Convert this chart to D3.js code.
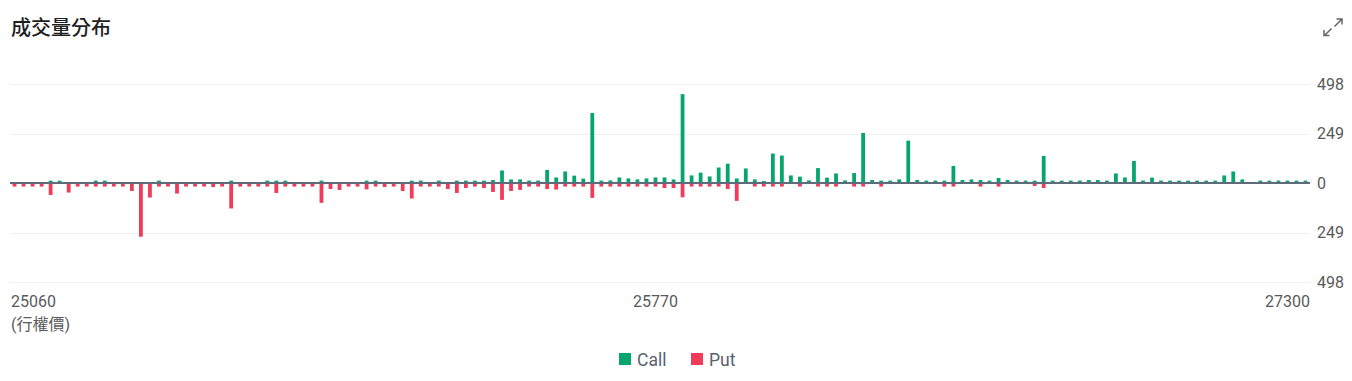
<!DOCTYPE html>
<html>
<head>
<meta charset="utf-8">
<script src="https://cdn.jsdelivr.net/npm/d3@7"></script>
<style>
  body { margin: 0; background: #fff; }
  svg { display: block; font-family: Roboto, "Noto Sans CJK TC", sans-serif; }
</style>
</head>
<body>
<div id="chart"></div>
<script>
// STRIKE PRICES (CATEGORIES)
const strikes = [
  25060, 25070, 25080, 25090, 25100, 25110, 25120, 25130, 25140, 25150,
  25160, 25170, 25180, 25190, 25200, 25210, 25220, 25230, 25240, 25250,
  25260, 25270, 25280, 25290, 25300, 25310, 25320, 25330, 25340, 25350,
  25360, 25370, 25380, 25390, 25400, 25410, 25420, 25430, 25440, 25450,
  25460, 25470, 25480, 25490, 25500, 25510, 25520, 25530, 25540, 25550,
  25560, 25570, 25580, 25590, 25600, 25610, 25620, 25630, 25640, 25650,
  25660, 25670, 25680, 25690, 25700, 25710, 25720, 25730, 25740, 25750,
  25760, 25770, 25790, 25810, 25830, 25850, 25870, 25890, 25910, 25930,
  25950, 25970, 25990, 26010, 26030, 26050, 26070, 26090, 26110, 26130,
  26150, 26170, 26190, 26210, 26230, 26250, 26270, 26290, 26310, 26330,
  26350, 26370, 26390, 26410, 26430, 26450, 26470, 26490, 26510, 26530,
  26550, 26570, 26590, 26610, 26630, 26650, 26670, 26690, 26710, 26730,
  26750, 26770, 26790, 26810, 26830, 26850, 26870, 26890, 26910, 26930,
  26950, 26970, 26990, 27010, 27030, 27050, 27070, 27090, 27110, 27130,
  27150, 27200, 27250, 27300
];

// CALL VOLUME PER STRIKE
const callVolume = [
  0, 0, 0, 0, 12, 12, 0, 0, 0, 12,
  12, 0, 0, 0, 0, 0, 12, 0, 0, 0,
  0, 0, 0, 0, 12, 0, 0, 0, 12, 12,
  12, 0, 0, 0, 12, 0, 0, 0, 0, 12,
  12, 0, 0, 0, 12, 12, 0, 12, 0, 12,
  12, 12, 12, 15, 63, 18, 18, 12, 12, 66,
  28, 58, 37, 22, 352, 12, 13, 28, 23, 18,
  23, 28, 28, 18, 447, 38, 52, 33, 78, 97,
  23, 73, 18, 10, 148, 138, 38, 32, 13, 75,
  27, 48, 13, 50, 252, 15, 12, 12, 18, 213,
  15, 12, 12, 12, 86, 15, 18, 15, 12, 25,
  15, 12, 12, 12, 136, 12, 12, 12, 12, 15,
  15, 12, 48, 28, 111, 12, 27, 12, 12, 12,
  12, 12, 12, 12, 38, 58, 18, 0, 12, 12,
  12, 12, 12, 12
];

// PUT VOLUME PER STRIKE (DRAWN DOWNWARD)
const putVolume = [
  18, 18, 18, 18, 60, 0, 48, 18, 18, 18,
  18, 18, 18, 40, 270, 73, 18, 18, 53, 18,
  18, 18, 20, 18, 128, 18, 18, 18, 18, 50,
  18, 18, 18, 18, 100, 30, 35, 18, 18, 32,
  18, 20, 18, 40, 78, 18, 18, 18, 30, 50,
  25, 18, 25, 45, 85, 40, 35, 18, 18, 30,
  33, 18, 18, 18, 75, 18, 18, 18, 18, 18,
  18, 18, 25, 25, 72, 18, 18, 18, 18, 30,
  90, 0, 18, 18, 18, 18, 0, 18, 0, 18,
  18, 18, 0, 18, 18, 0, 18, 0, 0, 0,
  0, 0, 0, 18, 18, 0, 0, 18, 0, 18,
  0, 0, 0, 15, 25, 0, 0, 0, 0, 0,
  0, 0, 0, 0, 0, 0, 0, 0, 0, 0,
  0, 0, 0, 0, 0, 0, 0, 0, 0, 0,
  0, 0, 0, 0
];

const yTicks = [-498, -249, 0, 249, 498];
const xTicks = [25060, 25770, 27300];
const legendItems = ["Call", "Put"];

const CALL_COLOR = "#05a56d";
const PUT_COLOR = "#f23a5a";
const TEXT_COLOR = "#5a5a5a";

const width = 1352;
const height = 381;
const plotLeft = 10;
const plotRight = 1310;
const plotTop = 84;
const plotBottom = 282;

const data = strikes.map((s, i) => ({
  strike: s,
  call: callVolume[i],
  put: putVolume[i],
}));

const svg = d3
  .select("#chart")
  .append("svg")
  .attr("width", width)
  .attr("height", height)
  .style("background", "#fff");

//SCALES
const x = d3
  .scaleBand()
  .domain(strikes)
  .range([plotLeft, plotRight])
  .paddingInner(0.58)
  .paddingOuter(0.29);

const y = d3.scaleLinear().domain([-498, 498]).range([plotBottom, plotTop]);

//TITLE
svg
  .append("text")
  .attr("x", 11)
  .attr("y", 35)
  .style("font-family", '"Noto Sans CJK TC", sans-serif')
  .style("font-size", "20px")
  .style("font-weight", "500")
  .style("fill", "#1f1f1f")
  .text("成交量分布");

// EXPAND ICON
const icon = svg
  .append("g")
  .attr("fill", "none")
  .attr("stroke", "#666")
  .attr("stroke-width", 1.5);
icon.append("path").attr("d", "M1334.5,26.5 L1341.5,19.5 M1336.5,19 L1342,19 L1342,24.5");
icon.append("path").attr("d", "M1331.5,28.5 L1324.5,35.5 M1324,30 L1324,35.5 L1329.5,35.5");

//GRIDLINES
svg
  .append("g")
  .selectAll("line")
  .data(yTicks.filter((d) => d !== 0))
  .join("line")
  .attr("x1", plotLeft)
  .attr("x2", plotRight)
  .attr("y1", (d) => Math.round(y(d)) + 0.5)
  .attr("y2", (d) => Math.round(y(d)) + 0.5)
  .attr("stroke", "#f0f0f0")
  .attr("stroke-width", 1);

//BARS
svg
  .append("g")
  .selectAll("rect.call")
  .data(data.filter((d) => d.call > 0))
  .join("rect")
  .attr("class", "call")
  .attr("x", (d) => x(d.strike))
  .attr("width", x.bandwidth())
  .attr("y", (d) => y(d.call))
  .attr("height", (d) => y(0) - y(d.call))
  .attr("fill", CALL_COLOR);

svg
  .append("g")
  .selectAll("rect.put")
  .data(data.filter((d) => d.put > 0))
  .join("rect")
  .attr("class", "put")
  .attr("x", (d) => x(d.strike))
  .attr("width", x.bandwidth())
  .attr("y", y(0))
  .attr("height", (d) => y(-d.put) - y(0))
  .attr("fill", PUT_COLOR);

// ZERO LINE
svg
  .append("line")
  .attr("x1", plotLeft)
  .attr("x2", plotRight)
  .attr("y1", y(0))
  .attr("y2", y(0))
  .attr("stroke", "#5f6a7b")
  .attr("stroke-width", 2);

//Y AXIS (RIGHT)
const yAxis = svg
  .append("g")
  .attr("transform", `translate(${plotRight},0)`)
  .call(
    d3
      .axisRight(y)
      .tickValues(yTicks)
      .tickSize(0)
      .tickPadding(7)
      .tickFormat((d) => Math.abs(d))
  );
yAxis.select(".domain").remove();
yAxis
  .selectAll("text")
  .style("font-family", "Roboto, sans-serif")
  .style("font-size", "16px")
  .style("fill", TEXT_COLOR);

//X AXIS
const xAxis = svg
  .append("g")
  .attr("transform", `translate(0,${plotBottom})`)
  .call(d3.axisBottom(x).tickValues(xTicks).tickSize(0).tickPadding(14));
xAxis.select(".domain").remove();
xAxis
  .selectAll("text")
  .style("font-family", "Roboto, sans-serif")
  .style("font-size", "16px")
  .style("fill", TEXT_COLOR)
  .attr("text-anchor", (d, i) => (i === 0 ? "start" : i === xTicks.length - 1 ? "end" : "middle"))
  .attr("x", (d, i) => {
    const c = x(d) + x.bandwidth() / 2;
    if (i === 0) return plotLeft + 1 - c;
    if (i === xTicks.length - 1) return plotRight - c;
    return 0;
  });

svg
  .append("text")
  .attr("x", 11)
  .attr("y", 330)
  .style("font-family", 'Roboto, "Noto Sans CJK TC", sans-serif')
  .style("font-size", "16px")
  .style("fill", TEXT_COLOR)
  .text("(行權價)");

// LEGEND
const legend = svg
  .append("g")
  .selectAll("g")
  .data(legendItems)
  .join("g")
  .attr("transform", (d, i) => `translate(${619 + i * 72},353)`);

legend
  .append("rect")
  .attr("width", 12)
  .attr("height", 12)
  .attr("fill", (d) => (d === "Call" ? CALL_COLOR : PUT_COLOR));

legend
  .append("text")
  .attr("x", 18)
  .attr("y", 13)
  .style("font-family", "Roboto, sans-serif")
  .style("font-size", "17.5px")
  .style("fill", "#5b6170")
  .text((d) => d);
</script>
</body>
</html>
